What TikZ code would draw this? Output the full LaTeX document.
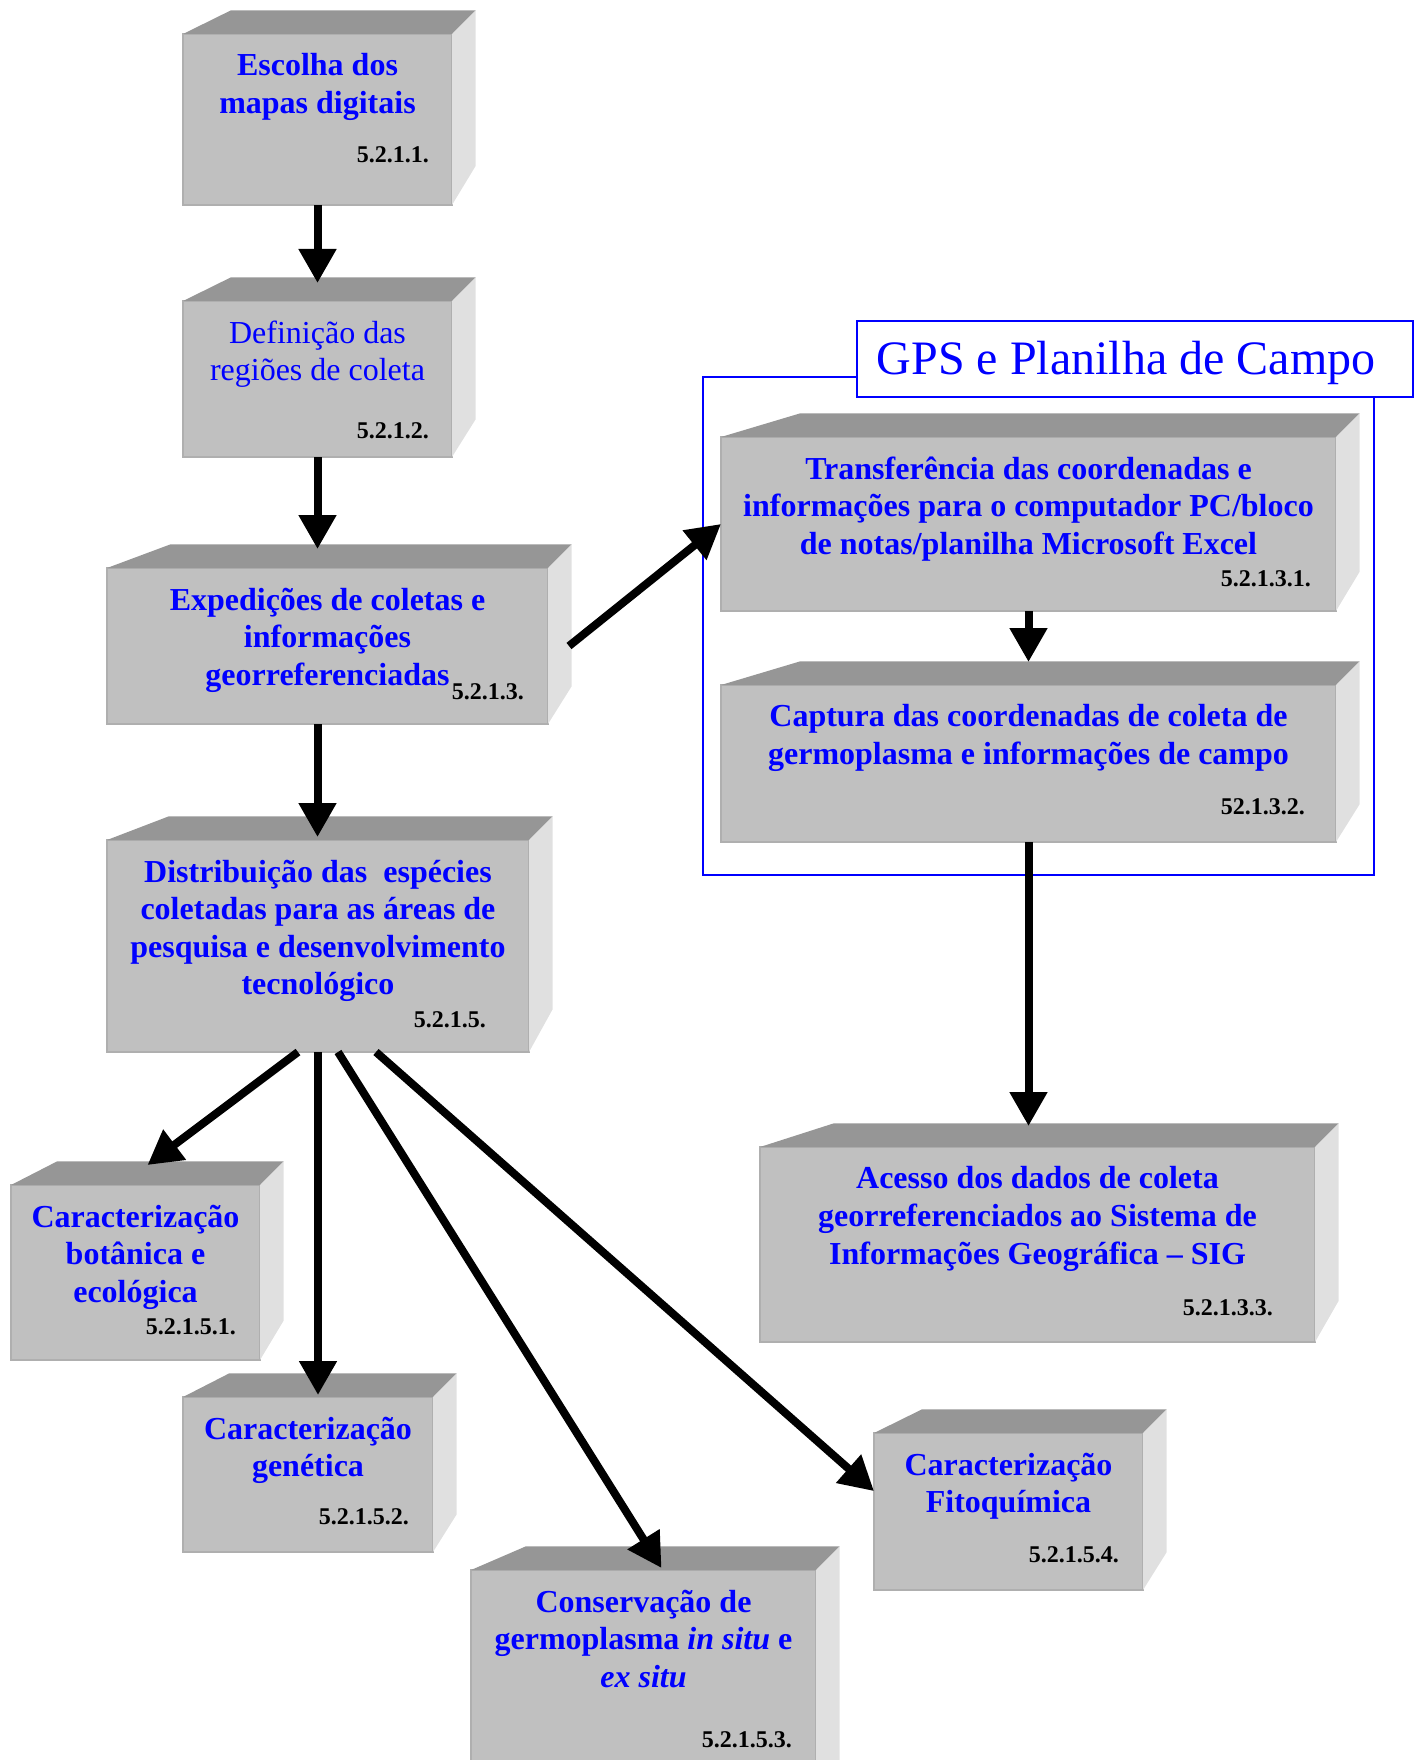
\documentclass[tikz,border=0pt]{standalone}
\usepackage{fontspec}
\setmainfont{Liberation Serif}
\usetikzlibrary{positioning,calc,arrows.meta}

\definecolor{frontgray}{RGB}{192,192,192}
\definecolor{topgray}{RGB}{150,150,150}
\definecolor{sidegray}{RGB}{224,224,224}
\definecolor{edgegray}{RGB}{175,175,175}

% top and side faces of a box
\newcommand{\slabdepth}{23.6pt}
\newcommand{\slab}[1]{%
  \fill[topgray] (#1.north west) -- ($(#1.north west)!0.09!(#1.north east)+(\slabdepth,\slabdepth)$)
     -- ($(#1.north east)+(\slabdepth,\slabdepth)$) -- (#1.north east) -- cycle;
  \fill[sidegray] (#1.north east) -- ($(#1.north east)+(\slabdepth,\slabdepth)$)
     -- ($(#1.south east)!0.09!(#1.north east)+(\slabdepth,\slabdepth)$) -- (#1.south east) -- cycle;
}

\tikzset{
  face/.style={draw=edgegray, line width=1.5pt, fill=frontgray, inner sep=0, outer sep=0, anchor=north west},
  boxtext/.style={text=blue, font={\fontsize{32}{37.6}\selectfont\bfseries}, align=center, inner sep=0, anchor=north},
  boxplain/.style={boxtext, font={\fontsize{32}{37.6}\selectfont}},
  boxnum/.style={font={\fontsize{24}{28}\selectfont\bfseries}, inner sep=0, anchor=east},
  flow/.style={-{Triangle[length=34pt,width=36pt]}, line width=8pt},
}

\begin{document}
\begin{tikzpicture}[x=1pt,y=-1pt]
    \clip (0,0) rectangle (1421,1760);
    % group frame
    \draw[blue, line width=2pt] (703,377) rectangle (1374,875);
    \node[draw=blue, fill=white, line width=2pt, minimum width=556pt, minimum height=76pt,
          anchor=north west] (gps) at (856,320) {};
    \node[text=blue, font={\fontsize{48}{56}\selectfont}, inner sep=0] (gps-txt)
          at ($(gps.center)+(-9pt,-4pt)$) {GPS e Planilha de Campo};

    % boxes, left column
    \node[face, minimum width=269pt, minimum height=171pt] (escolha) at (183,34) {};
    \node[face, minimum width=269pt, minimum height=156pt] (definicao) at (183,301) {};
    \node[face, minimum width=441pt, minimum height=156pt] (expedicoes) at (107,568) {};
    \node[face, minimum width=422pt, minimum height=212pt] (distrib) at (107,840) {};
    \node[face, minimum width=249pt, minimum height=175pt] (botanica) at (11,1185) {};
    \node[face, minimum width=250pt, minimum height=155pt] (genetica) at (183,1397) {};
    \node[face, minimum width=345pt, minimum height=240pt] (conserv) at (471,1570) {};
    \node[face, minimum width=269pt, minimum height=157pt] (fito) at (874,1433) {};
    % boxes, right column
    \node[face, minimum width=615pt, minimum height=174pt] (transf) at (721,437) {};
    \node[face, minimum width=615pt, minimum height=157pt] (captura) at (721,685) {};
    \node[face, minimum width=555pt, minimum height=195pt] (acesso) at (760,1147) {};

    \foreach \b in {escolha,definicao,expedicoes,distrib,botanica,genetica,conserv,fito,transf,captura,acesso}
        \slab{\b};

    % texts
    \node[boxtext, below=19.5pt of escolha.north] (escolha-txt) {Escolha dos\\mapas digitais};
    \node[boxplain, below=19.5pt of definicao.north] (definicao-txt) {Definição das\\regiões de coleta};
    \node[boxtext, below=19.5pt of expedicoes.north] (expedicoes-txt) {Expedições de coletas e\\informações\\georreferenciadas};
    \node[boxtext, below=19.5pt of distrib.north] (distrib-txt) {Distribuição das~ espécies\\coletadas para as áreas de\\pesquisa e desenvolvimento\\tecnológico};
    \node[boxtext, below=19.5pt of botanica.north] (botanica-txt) {Caracterização\\botânica e\\ecológica};
    \node[boxtext, below=19.5pt of genetica.north] (genetica-txt) {Caracterização\\genética};
    \node[boxtext, below=19.5pt of conserv.north] (conserv-txt) {Conservação de\\germoplasma \textit{in situ} e\\\textit{ex situ}};
    \node[boxtext, below=19.5pt of fito.north] (fito-txt) {Caracterização\\Fitoquímica};
    \node[boxtext, below=19.5pt of transf.north] (transf-txt) {Transferência das coordenadas e\\informações para o computador PC/bloco\\de notas/planilha Microsoft Excel};
    \node[boxtext, below=19.5pt of captura.north] (captura-txt) {Captura das coordenadas de coleta de\\germoplasma e informações de campo};
    \node[boxtext, below=19.5pt of acesso.north] (acesso-txt) {Acesso dos dados de coleta\\georreferenciados ao Sistema de\\Informações Geográfica – SIG};

    % numbers
    \node[boxnum] (escolha-num) at (429,155) {5.2.1.1.};
    \node[boxnum] (definicao-num) at (429,431) {5.2.1.2.};
    \node[boxnum] (expedicoes-num) at (524,692) {5.2.1.3.};
    \node[boxnum] (distrib-num) at (486,1020) {5.2.1.5.};
    \node[boxnum] (botanica-num) at (236,1327) {5.2.1.5.1.};
    \node[boxnum] (genetica-num) at (409,1517) {5.2.1.5.2.};
    \node[boxnum] (conserv-num) at (792,1740) {5.2.1.5.3.};
    \node[boxnum] (fito-num) at (1119,1555) {5.2.1.5.4.};
    \node[boxnum] (transf-num) at (1311,579) {5.2.1.3.1.};
    \node[boxnum] (captura-num) at (1305,807) {52.1.3.2.};
    \node[boxnum] (acesso-num) at (1273,1308) {5.2.1.3.3.};

    % arrows
    \draw[flow] (escolha.south) -- ($(definicao.north)+(0,18pt)$);
    \draw[flow] (definicao.south) -- ($(definicao.south |- expedicoes.north)+(0,19pt)$);
    \draw[flow] (definicao.south |- expedicoes.south) -- ($(definicao.south |- distrib.north)+(0,3pt)$);
    \draw[flow] ($(expedicoes.east)+(21pt,0)$) -- (transf.west);
    \draw[flow] (transf.south) -- ($(captura.north)+(0,23pt)$);
    \draw[flow] (captura.south) -- ($(captura.south |- acesso.north)+(0,21pt)$);
    \draw[flow] ($(distrib.south)+(-20pt,0)$) -- ($(botanica.north)+(12pt,20pt)$);
    \draw[flow] (distrib.south) -- ($(distrib.south |- genetica.north)+(0,2pt)$);
    \draw[flow] ($(distrib.south)+(20pt,0)$) -- ($(conserv.north)+(18pt,2pt)$);
    \draw[flow] ($(distrib.south)+(58pt,0)$) -- ($(fito.north west)!0.37!(fito.south west)$);
\end{tikzpicture}
\end{document}
